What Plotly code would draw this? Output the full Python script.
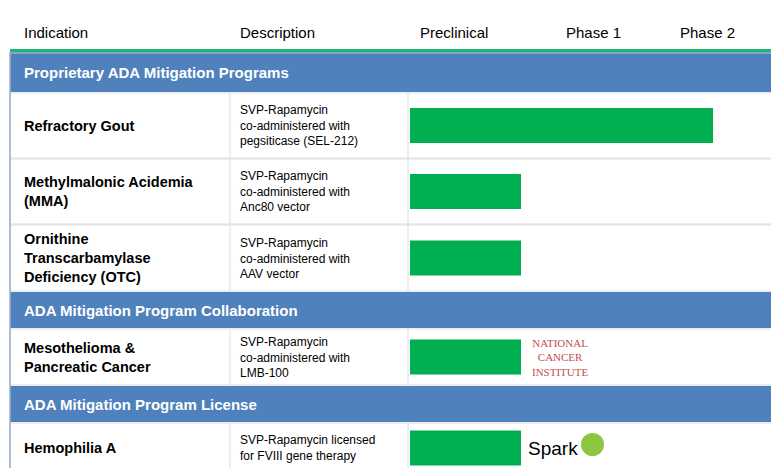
import plotly.graph_objects as go

W, H = 779, 468

# data
columns = ["Indication", "Description", "Preclinical", "Phase 1", "Phase 2"]
sections = ["Proprietary ADA Mitigation Programs",
            "ADA Mitigation Program Collaboration",
            "ADA Mitigation Program License"]
indications = ["Refractory Gout", "Methylmalonic Acidemia<br>(MMA)",
               "Ornithine<br>Transcarbamylase<br>Deficiency (OTC)",
               "Mesothelioma &<br>Pancreatic Cancer", "Hemophilia A"]
descriptions = ["SVP-Rapamycin<br>co-administered with<br>pegsiticase (SEL-212)",
                "SVP-Rapamycin<br>co-administered with<br>Anc80 vector",
                "SVP-Rapamycin<br>co-administered with<br>AAV vector",
                "SVP-Rapamycin<br>co-administered with<br>LMB-100",
                "SVP-Rapamycin licensed<br>for FVIII gene therapy"]
progress = [2.73, 1.0, 1.0, 1.0, 1.0]   # in stage units (1 = preclinical done)

# layout (pixels)
bar_start, stage_px = 402, 111
section_bands = [(45, 84), (284, 320), (378, 414)]
row_bands = [(85, 150), (151, 216), (217, 283), (321, 377), (415, 465)]
row_centers = [(a + b) / 2 for a, b in row_bands]
blue = "#4f81bd"
green = "#00b050"
font = "Liberation Sans, Arial, sans-serif"

fig = go.Figure()
fig.add_trace(go.Bar(
    x=[p * stage_px for p in progress], y=row_centers, base=bar_start, orientation="h", width=35,
    marker=dict(color=green, line_width=0), hoverinfo="skip"))

shapes = []
shapes.append(dict(type="rect", x0=2, x1=775, y0=41, y1=45, fillcolor="#1fb57a", line_width=0, layer="below"))
for a, b in section_bands:
    shapes.append(dict(type="rect", x0=2, x1=775, y0=a, y1=b, fillcolor=blue, line_width=0, layer="below"))
for a, b in row_bands:
    shapes.append(dict(type="rect", x0=2, x1=775, y0=a, y1=b, fillcolor="white",
                       line=dict(color="#d9dde3", width=1), layer="below"))
    for xv in [222, 400]:
        shapes.append(dict(type="line", x0=xv, x1=xv, y0=a, y1=b, line=dict(color="#d9dde3", width=1), layer="below"))
shapes.append(dict(type="rect", x0=2, x1=775, y0=45, y1=465, line=dict(color="#9aaecb", width=1.5), layer="above"))

ann = []
for txt, xv in zip(columns, [14, 230, 410, 556, 670]):
    ann.append(dict(x=xv, y=24, text=txt, xanchor="left", font=dict(size=15, color="black")))
for txt, (a, b) in zip(sections, section_bands):
    ann.append(dict(x=14, y=(a + b) / 2, text="<b>" + txt + "</b>", xanchor="left", font=dict(size=15, color="white")))
for ind, desc, yc in zip(indications, descriptions, row_centers):
    ann.append(dict(x=14, y=yc, text="<b>" + ind + "</b>", xanchor="left", align="left", font=dict(size=14.5, color="black")))
    ann.append(dict(x=230, y=yc, text=desc, xanchor="left", align="left", font=dict(size=12, color="black")))
ann.append(dict(x=522, y=row_centers[3], text="NATIONAL<br>CANCER<br>INSTITUTE", xanchor="left", align="center",
                font=dict(size=11, color="#c0504d", family="Liberation Serif, serif")))
ann.append(dict(x=518, y=row_centers[4], text="Spark", xanchor="left", font=dict(size=19, color="black")))
shapes.append(dict(type="circle", x0=573, x1=596, y0=425, y1=448, fillcolor="#8dc63f", line_width=0))
for s in shapes:
    s.update(xref="x", yref="y")
for a in ann:
    a.update(xref="x", yref="y", showarrow=False, yanchor="middle")
    a["font"].setdefault("family", font)

fig.update_layout(
    width=W, height=H, margin=dict(l=0, r=0, t=0, b=0, pad=0),
    paper_bgcolor="white", plot_bgcolor="white", showlegend=False,
    xaxis=dict(range=[0, W], domain=[0, 1], visible=False, fixedrange=True),
    yaxis=dict(range=[H, 0], domain=[0, 1], visible=False, fixedrange=True),
    shapes=shapes, annotations=ann)
fig.write_html("out.html")
